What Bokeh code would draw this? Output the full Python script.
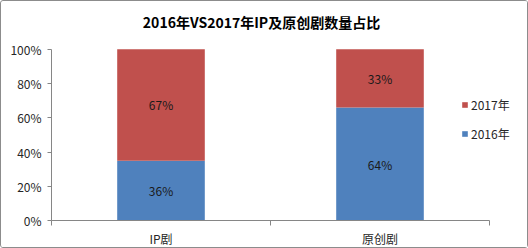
from bokeh.plotting import figure
from bokeh.models import FixedTicker, Label, ColumnDataSource, NumeralTickFormatter
from bokeh.core.properties import value
from bokeh.embed import file_html
from bokeh.resources import INLINE

categories = ["IP剧", "原创剧"]
y2016 = [36, 64]
y2017 = [67, 33]
series = ["2016年", "2017年"]
title_text = "2016年VS2017年IP及原创剧数量占比"

FONT = "Noto Sans CJK SC"
xs = [i + 0.5 for i in range(len(categories))]
tot = [a + b for a, b in zip(y2016, y2017)]
n16 = [a / t for a, t in zip(y2016, tot)]
n17 = [b / t for b, t in zip(y2017, tot)]

src = ColumnDataSource(dict(x=xs, s2016=n16, s2017=n17))

ncat = len(categories)
px_per_cat = 219.0
px_per_unit_y = 172.0
p = figure(width=528, height=248, output_backend="svg", toolbar_location=None,
           x_range=(0, ncat + 40 / px_per_cat), y_range=(0, 1 + 48 / px_per_unit_y),
           min_border_left=50, min_border_right=0, min_border_top=0, min_border_bottom=28,
           styles={"border": "1px solid #8c8c8c", "border-radius": "3px", "box-sizing": "border-box"})
p.outline_line_color = None
p.xgrid.visible = False
p.ygrid.visible = False
p.background_fill_color = "white"
p.border_fill_color = "white"

r = p.vbar_stack(["s2016", "s2017"], x="x", width=0.4, source=src,
                 color=["#4F81BD", "#C0504D"], line_color=None,
                 legend_label=series)

# value labels
lab_x = xs + xs
lab_y = [v / 2 for v in n16] + [a + b / 2 for a, b in zip(n16, n17)]
lab_t = [f"{v}%" for v in y2016] + [f"{v}%" for v in y2017]
p.text(x=lab_x, y=lab_y, text=lab_t, text_align="center", text_baseline="middle",
       text_font=value(FONT), text_font_size="12px", text_color="#1a1a1a")

# y axis
ya = p.yaxis[0]
ya.bounds = (0, 1)
ya.ticker = FixedTicker(ticks=[0, 0.2, 0.4, 0.6, 0.8, 1.0])
ya.formatter = NumeralTickFormatter(format="0%")
ya.axis_line_color = "#868686"
ya.major_tick_line_color = "#868686"
ya.major_tick_out = 4
ya.major_tick_in = 0
ya.minor_tick_line_color = None
ya.major_label_standoff = 6
ya.major_label_text_font = FONT
ya.major_label_text_font_size = "12px"
ya.major_label_text_color = "#262626"

# x axis
xa = p.xaxis[0]
xa.bounds = (0, ncat)
xa.ticker = FixedTicker(ticks=xs, minor_ticks=[float(i) for i in range(ncat + 1)])
xa.major_label_overrides = {x: c for x, c in zip(xs, categories)}
xa.axis_line_color = "#868686"
xa.major_tick_line_color = None
xa.minor_tick_line_color = "#868686"
xa.minor_tick_out = 5
xa.minor_tick_in = 0
xa.major_label_standoff = 3
xa.major_label_text_font = FONT
xa.major_label_text_font_size = "12px"
xa.major_label_text_color = "#262626"

# title
p.add_layout(Label(x=(260 - 50) / px_per_cat, y=1 + (48 - 21) / px_per_unit_y, text=title_text,
                   text_align="center", text_baseline="middle",
                   text_font=FONT, text_font_size="14px", text_font_style="bold", text_color="#000000"))

# legend
lg = p.legend[0]
lg.items = list(reversed(lg.items))
lg.location = (410, 78)
lg.glyph_width = 7
lg.glyph_height = 7
lg.label_height = 12
lg.label_standoff = 3
lg.spacing = 12
lg.padding = 0
lg.margin = 0
lg.border_line_color = None
lg.background_fill_alpha = 0
lg.label_text_font = FONT
lg.label_text_font_size = "12px"
lg.label_text_color = "#262626"

open("out.html", "w").write(file_html(p, INLINE))
